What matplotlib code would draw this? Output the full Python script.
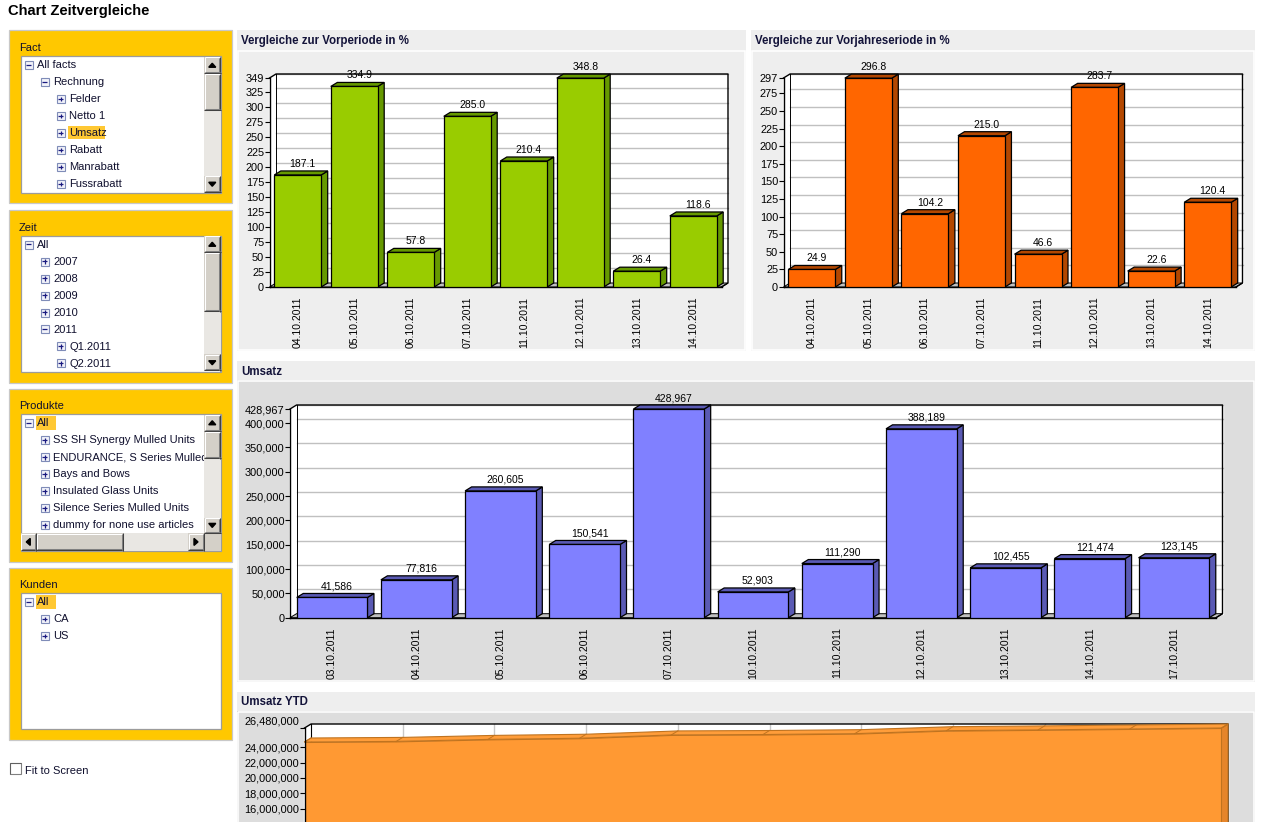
import matplotlib
matplotlib.use('Agg')
import matplotlib.pyplot as plt
from matplotlib.patches import Rectangle
from matplotlib.transforms import Bbox, ScaledTranslation

plt.rcParams['font.family'] = ['Liberation Sans', 'DejaVu Sans']

# ---------------- data ----------------
dates_cmp = ['04.10.2011', '05.10.2011', '06.10.2011', '07.10.2011',
             '11.10.2011', '12.10.2011', '13.10.2011', '14.10.2011']
vorperiode = [187.1, 334.9, 57.8, 285.0, 210.4, 348.8, 26.4, 118.6]
vorjahr = [24.9, 296.8, 104.2, 215.0, 46.6, 283.7, 22.6, 120.4]
ticks_vp = [0, 25, 50, 75, 100, 125, 150, 175, 200, 225, 250, 275, 300, 325, 349]
ticks_vj = [0, 25, 50, 75, 100, 125, 150, 175, 200, 225, 250, 275, 297]

dates_u = ['03.10.2011', '04.10.2011', '05.10.2011', '06.10.2011', '07.10.2011',
           '10.10.2011', '11.10.2011', '12.10.2011', '13.10.2011', '14.10.2011',
           '17.10.2011']
umsatz = [41586, 77816, 260605, 150541, 428967, 52903, 111290, 388189,
          102455, 121474, 123145]
ticks_u = [0, 50000, 100000, 150000, 200000, 250000, 300000, 350000, 400000, 428967]

umsatz_ytd = [24662615, 24740431, 25001036, 25151577, 25580544, 25633447,
              25744737, 26132926, 26235381, 26356855, 26480000]
ytd_max = 26480000
ticks_ytd = [16000000, 18000000, 20000000, 22000000, 24000000, 26480000]

fact_tree = [('All facts', 0, '-'), ('Rechnung', 1, '-'), ('Felder', 2, '+'),
             ('Netto 1', 2, '+'), ('Umsatz', 2, '+'), ('Rabatt', 2, '+'),
             ('Manrabatt', 2, '+'), ('Fussrabatt', 2, '+')]
zeit_tree = [('All', 0, '-'), ('2007', 1, '+'), ('2008', 1, '+'), ('2009', 1, '+'),
             ('2010', 1, '+'), ('2011', 1, '-'), ('Q1.2011', 2, '+'), ('Q2.2011', 2, '+')]
prod_tree = [('All', 0, '-'), ('SS SH Synergy Mulled Units', 1, '+'),
             ('ENDURANCE, S Series Mulled Units', 1, '+'), ('Bays and Bows', 1, '+'),
             ('Insulated Glass Units', 1, '+'), ('Silence Series Mulled Units', 1, '+'),
             ('dummy for none use articles', 1, '+')]
kunden_tree = [('All', 0, '-'), ('CA', 1, '+'), ('US', 1, '+')]

# ---------------- figure ----------------
W, H = 1262, 822
fig = plt.figure(figsize=(W / 100, H / 100), dpi=100)
fig.patch.set_facecolor('white')


def fr(x0, y0, x1, y1):
    return [x0 / W, 1 - y1 / H, (x1 - x0) / W, (y1 - y0) / H]


ui = fig.add_axes([0, 0, 1, 1])
ui.set_xlim(0, W)
ui.set_ylim(H, 0)
ui.axis('off')
ui.set_zorder(0)

TXT = '#10102e'
FS = 8


def rect(x0, y0, x1, y1, fc, ec='none', lw=0.8, z=1):
    ui.add_patch(Rectangle((x0, y0), x1 - x0, y1 - y0, facecolor=fc,
                           edgecolor=ec, lw=lw, zorder=z))


def line(xs, ys, c, lw=0.75, z=4):
    ui.plot(xs, ys, color=c, lw=lw, zorder=z, solid_capstyle='butt')


def button(x0, y0, x1, y1, arrow=None):
    rect(x0, y0, x1, y1, '#D4D0C8', z=3)
    line([x0 + 0.5, x1 - 1], [y0 + 0.5, y0 + 0.5], 'white')
    line([x0 + 0.5, x0 + 0.5], [y0 + 0.5, y1 - 1], 'white')
    line([x0, x1], [y1 - 0.5, y1 - 0.5], '#404040')
    line([x1 - 0.5, x1 - 0.5], [y0, y1], '#404040')
    line([x0 + 1, x1 - 1], [y1 - 1.5, y1 - 1.5], '#808080')
    line([x1 - 1.5, x1 - 1.5], [y0 + 1, y1 - 1], '#808080')
    cx, cy = (x0 + x1) / 2, (y0 + y1) / 2
    s = 3.5
    if arrow == 'up':
        ui.fill([cx - s, cx + s, cx], [cy + 2, cy + 2, cy - 2], color='black', zorder=5)
    elif arrow == 'down':
        ui.fill([cx - s, cx + s, cx], [cy - 2, cy - 2, cy + 2], color='black', zorder=5)
    elif arrow == 'left':
        ui.fill([cx + 2, cx + 2, cx - 2], [cy - s, cy + s, cy], color='black', zorder=5)
    elif arrow == 'right':
        ui.fill([cx - 2, cx - 2, cx + 2], [cy - s, cy + s, cy], color='black', zorder=5)


def vscroll(y0, y1, t0, t1):
    x0, x1 = 204, 220.5
    rect(x0, y0, x1, y1, '#E9E7E3', z=2)
    button(x0, y0, x1, y0 + 16.5, 'up')
    button(x0, t0, x1, t1)
    button(x0, y1 - 16.5, x1, y1, 'down')


def icon(cx, cy, sign):
    rect(cx - 4, cy - 4, cx + 4, cy + 4, '#F2F3FA', ec='#7F8CB8', lw=0.8, z=4)
    line([cx - 2.3, cx + 2.3], [cy, cy], '#1A1A80', lw=0.9, z=5)
    if sign == '+':
        line([cx, cx], [cy - 2.3, cy + 2.3], '#1A1A80', lw=0.9, z=5)


def tree(items, y_first, highlight=None, clip=None):
    for k, (label, lvl, sign) in enumerate(items):
        y = y_first + 17 * k
        icon(28.5 + 16 * lvl, y, sign)
        tx = 37 + 16 * lvl
        if highlight == label:
            w = 5.9 * len(label) + 2
            rect(tx - 1, y - 7, tx + w - 1, y + 6.5, '#FFC833', z=3)
        t = ui.text(tx, y, label, fontsize=FS, color=TXT, va='center', ha='left', zorder=5)
        if clip is not None:
            t.set_clip_on(True)
            t.set_clip_box(Bbox.from_extents(clip[0], H - clip[3], clip[2], H - clip[1]))


def panel(y0, y1, label, label_y, by0, by1):
    rect(8.5, y0, 231.5, y1, '#FFC800', ec='#C8C8C8', lw=0.9)
    ui.text(19, label_y, label, fontsize=FS, color=TXT, va='center', ha='left', zorder=5)
    rect(20.5, by0, 220.5, by1, 'white', ec='#9C9C9C', lw=0.9, z=2)


# title
ui.text(8, 11, 'Chart Zeitvergleiche', fontsize=10.6, fontweight='bold',
        color='black', va='center', ha='left')

# Fact
panel(30, 203.5, 'Fact', 48, 56.5, 193)
tree(fact_tree, 65, highlight='Umsatz')
vscroll(57, 192.5, 74, 110.5)
# Zeit
panel(209.5, 382.5, 'Zeit', 228, 235.5, 371.5)
tree(zeit_tree, 244.5)
vscroll(236, 371, 252.5, 312)
# Produkte
panel(388.5, 561.5, 'Produkte', 406, 414, 551)
tree(prod_tree, 423.3, highlight='All', clip=(20.5, 414, 204, 533))
rect(204, 414.5, 220.5, 533.3, '#E9E7E3', z=2)
button(204, 414.5, 220.5, 431, 'up')
button(204, 431.5, 220.5, 458.5)
button(204, 517.5, 220.5, 533.3, 'down')
rect(20.5, 533.3, 220.5, 550.5, '#E9E7E3', z=2)
button(20.5, 533.3, 36, 550.5, 'left')
button(36, 533.3, 123, 550.5)
button(188, 533.3, 204, 550.5, 'right')
rect(204, 533.3, 220.5, 550.5, '#D4D0C8', z=3)
# Kunden
panel(567.5, 740, 'Kunden', 585, 593.3, 729.3)
tree(kunden_tree, 602, highlight='All')

# Fit to screen
rect(9.5, 762.5, 20.5, 773.5, 'white', ec='#808080', lw=0.8, z=2)
line([9.5, 20.5], [762.8, 762.8], '#606060')
line([9.8, 9.8], [762.5, 773.5], '#606060')
ui.text(25, 771, 'Fit to Screen', fontsize=FS, color=TXT, va='center', ha='left')

# chart panels (backgrounds)
HDR = '#EEEEEE'
HTXT = '#14143a'


def chart_panel(x0, x1, y0, yh, y1, body, title):
    rect(x0, y0, x1, yh, HDR, z=1)
    rect(x0, yh, x1, y1, body, z=1)
    rect(x0 + 1, yh + 1, x1 - 1, y1 - 1, 'none', ec='white', lw=1.1, z=1.5)
    ui.text(x0 + 4.5, (y0 + yh) / 2 + 0.5, title, fontsize=8.3, fontweight='bold',
            color=HTXT, va='center', ha='left', zorder=5)


chart_panel(236.5, 746, 30, 50.5, 351, '#EEEEEE', 'Vergleiche zur Vorperiode in %')
chart_panel(750.5, 1255, 30, 50.5, 351, '#EEEEEE', 'Vergleiche zur Vorjahreseriode in %')
chart_panel(236.5, 1255, 361.5, 380.5, 682, '#DDDDDD', 'Umsatz')
chart_panel(236.5, 1255, 691.5, 711, H + 20, '#DDDDDD', 'Umsatz YTD')

DX, DY = 6.5, 4.0
TICK_FS = 7.5
YTICK_FS = 7.9


def bar_chart(px, cats, vals, yticks, ylabels, face, dark, fmt, bw):
    x0, y0, x1, y1 = px
    ax = fig.add_axes(fr(*px))
    ax.set_zorder(2)
    ax.patch.set_visible(False)
    n = len(vals)
    xmin, xmax = -0.5, n - 0.5
    ymax = yticks[-1]
    ax.set_xlim(xmin, xmax)
    ax.set_ylim(0, ymax)
    dx = DX * (xmax - xmin) / (x1 - x0)
    dy = DY * ymax / (y1 - y0)
    kw = dict(clip_on=False)
    ax.fill([xmin + dx, xmax + dx, xmax + dx, xmin + dx], [dy, dy, ymax + dy, ymax + dy],
            color='white', zorder=0.1, **kw)
    ax.fill([xmin, xmin + dx, xmin + dx, xmin], [0, dy, ymax + dy, ymax],
            color='white', zorder=0.1, **kw)
    for t in yticks[1:]:
        ax.plot([xmin + dx, xmax + dx], [t + dy, t + dy], color='#C0C0C0', lw=1,
                zorder=0.2, **kw)
    ax.fill([xmin, xmax, xmax + dx, xmin + dx], [0, 0, dy, dy], facecolor='#C0C0C0',
            edgecolor='black', lw=0.7, zorder=0.3, **kw)
    ax.plot([xmin, xmin + dx, xmax + dx, xmax + dx, xmax],
            [ymax, ymax + dy, ymax + dy, dy, 0], color='black', lw=1, zorder=0.4, **kw)
    ax.plot([xmin + dx, xmin + dx], [dy, ymax + dy], color='black', lw=0.7,
            zorder=0.4, **kw)
    ax.bar(range(n), vals, width=bw, color=face, edgecolor='black', lw=0.9, zorder=3)
    for i, v in enumerate(vals):
        l, r = i - bw / 2, i + bw / 2
        ax.fill([r, r + dx, r + dx, r], [0, dy, v + dy, v], facecolor=dark,
                edgecolor='black', lw=0.9, zorder=2, **kw)
        ax.fill([l, l + dx, r + dx, r], [v, v + dy, v + dy, v], facecolor=dark,
                edgecolor='black', lw=0.9, zorder=2, **kw)
        ax.annotate(fmt(v), (i, v), xytext=(5, 6), textcoords='offset pixels',
                    ha='center', va='bottom', fontsize=TICK_FS, zorder=4,
                    annotation_clip=False)
    for s in ['top', 'right']:
        ax.spines[s].set_visible(False)
    ax.spines['left'].set_linewidth(1)
    ax.spines['bottom'].set_linewidth(1)
    ax.spines['left'].set_zorder(5)
    ax.set_yticks(yticks, ylabels)
    ax.set_xticks(range(n), cats, rotation=90)
    ax.tick_params(axis='y', length=3.5, width=0.8, pad=0.3, labelsize=YTICK_FS)
    ax.tick_params(axis='x', length=0, pad=7, labelsize=TICK_FS)
    return ax


bar_chart((269.5, 78, 721.5, 287), dates_cmp, vorperiode, ticks_vp,
          [str(t) for t in ticks_vp], '#99CC00', '#669900',
          lambda v: f'{v:.1f}', 0.83)
bar_chart((783.5, 78, 1236, 287), dates_cmp, vorjahr, ticks_vj,
          [str(t) for t in ticks_vj], '#FF6600', '#B34700',
          lambda v: f'{v:.1f}', 0.83)
bar_chart((290, 409, 1216, 617.7), dates_u, umsatz, ticks_u,
          [f'{t:,}' for t in ticks_u], '#8080FF', '#5A5AB4',
          lambda v: f'{v:,}', 0.84)

# ---------------- YTD area chart ----------------
px = (304.5, 728, 1221.5, 932)
ax = fig.add_axes(fr(*px))
ax.set_zorder(2)
ax.patch.set_visible(False)
n = len(umsatz_ytd)
xs = list(range(n))
xmin, xmax = 0, n - 1
ymax = ytd_max
ax.set_xlim(xmin, xmax)
ax.set_ylim(0, ymax)
dx = DX * (xmax - xmin) / (px[2] - px[0])
dy = DY * ymax / (px[3] - px[1])
kw = dict(clip_on=False)
ax.fill([xmin + dx, xmax + dx, xmax + dx, xmin + dx], [dy, dy, ymax + dy, ymax + dy],
        color='white', zorder=0.1, **kw)
ax.fill([xmin, xmin + dx, xmin + dx, xmin], [0, dy, ymax + dy, ymax],
        color='white', zorder=0.1, **kw)
for x in xs[1:-1]:
    ax.plot([x + dx, x + dx], [dy, ymax + dy], color='#C8C8C8', lw=1, zorder=0.2, **kw)
ax.plot([xmin, xmin + dx, xmax + dx, xmax + dx],
        [ymax, ymax + dy, ymax + dy, dy], color='black', lw=1, zorder=0.4, **kw)
ax.plot([xmin + dx, xmin + dx], [dy, ymax + dy], color='black', lw=0.8, zorder=0.4, **kw)
ax.fill_between(xs, 0, umsatz_ytd, facecolor='#FF9933', edgecolor='#C0731F',
                lw=0.8, zorder=2)
top_x = xs + [x + dx for x in xs[::-1]]
top_y = umsatz_ytd + [v + dy for v in umsatz_ytd[::-1]]
ax.fill(top_x, top_y, facecolor='#FF9D3A', edgecolor='#C0731F', lw=0.8, zorder=2.5, **kw)
for x, v in zip(xs, umsatz_ytd):
    ax.plot([x, x + dx], [v, v + dy], color='#C0731F', lw=0.7, zorder=2.6, **kw)
ax.fill([xmax, xmax + dx, xmax + dx, xmax],
        [0, dy, umsatz_ytd[-1] + dy, umsatz_ytd[-1]],
        facecolor='#E6852A', edgecolor='#C0731F', lw=0.8, zorder=2.4, **kw)
for s in ['top', 'right', 'bottom']:
    ax.spines[s].set_visible(False)
ax.spines['left'].set_linewidth(1)
ax.spines['left'].set_zorder(5)
ax.set_yticks(ticks_ytd, [f'{t:,}' for t in ticks_ytd])
ax.set_xticks([])
ax.tick_params(axis='y', length=3.5, width=0.8, pad=0.3, labelsize=YTICK_FS)
top_lbl = ax.get_yticklabels()[-1]
top_lbl.set_transform(top_lbl.get_transform() + ScaledTranslation(0, 0.08, fig.dpi_scale_trans))

fig.savefig('out.png', dpi=100)
